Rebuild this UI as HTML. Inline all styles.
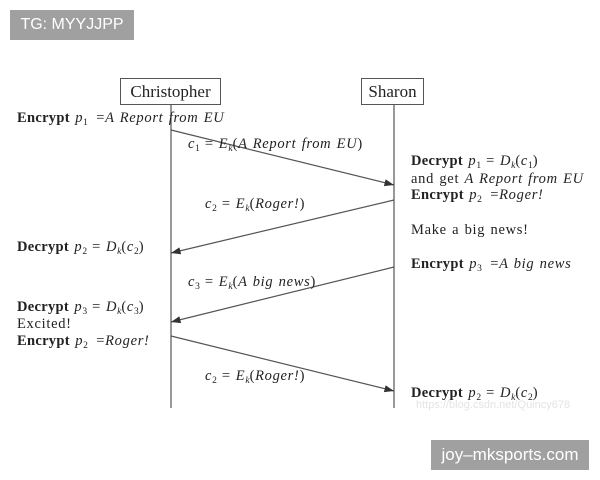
<!DOCTYPE html>
<html><head><style>
body{margin:0;background:#fff;width:600px;height:480px;overflow:hidden;position:relative;font-family:"Liberation Serif",serif;color:#222}
.t{position:absolute;font-size:14.5px;letter-spacing:0.7px;word-spacing:1px;white-space:nowrap;line-height:1}
b{font-weight:bold;letter-spacing:0.3px}
i{font-style:italic}
.e{margin:0 5px}
.f{margin:0 0 0 3px}
.box{position:absolute;border:1px solid #555;font-size:17px;text-align:center;background:#fff}
.g{position:absolute;background:#a0a0a0;color:#fff;font-family:"Liberation Sans",sans-serif;font-size:16px;display:flex;align-items:center;justify-content:center}
sub{font-size:9.5px;vertical-align:-3px;letter-spacing:0}
</style></head><body>
<div class="g" style="left:10px;top:10px;width:124px;height:30px">TG: MYYJJPP</div>
<div class="g" style="left:431px;top:440px;width:158px;height:30px;font-size:17px">joy–mksports.com</div>
<svg width="600" height="480" style="position:absolute;left:0;top:0">
<defs><marker id="a" markerWidth="8" markerHeight="6" refX="8" refY="3" orient="auto"><path d="M0,0L8,3L0,6z" fill="#333"/></marker></defs>
<g stroke="#555" stroke-width="1.2" fill="none">
<line x1="171" y1="105" x2="171" y2="408"/>
<line x1="394" y1="103" x2="394" y2="408"/>
<line x1="171" y1="130" x2="394" y2="185" marker-end="url(#a)"/>
<line x1="394" y1="200" x2="171" y2="253" marker-end="url(#a)"/>
<line x1="394" y1="267" x2="171" y2="322" marker-end="url(#a)"/>
<line x1="171" y1="336" x2="394" y2="391" marker-end="url(#a)"/>
</g></svg>
<div class="box" style="left:120px;top:78px;width:99px;height:25px;line-height:25px">Christopher</div>
<div class="box" style="left:361px;top:78px;width:61px;height:25px;line-height:25px">Sharon</div>
<div class="t" style="left:17px;top:111px"><b>Encrypt</b> <i>p</i><sub>1</sub> <span class="f">=</span><i>A Report from EU</i></div>
<div class="t" style="left:188px;top:137px"><i>c</i><sub>1</sub><span class="e">=</span><i>E<sub>k</sub></i>(<i>A Report from EU</i>)</div>
<div class="t" style="left:411px;top:154px"><b>Decrypt</b> <i>p</i><sub>1</sub><span class="e">=</span><i>D<sub>k</sub></i>(<i>c</i><sub>1</sub>)</div>
<div class="t" style="left:411px;top:172px">and get <i>A Report from EU</i></div>
<div class="t" style="left:411px;top:188px"><b>Encrypt</b> <i>p</i><sub>2</sub> <span class="f">=</span><i>Roger!</i></div>
<div class="t" style="left:411px;top:223px">Make a big news!</div>
<div class="t" style="left:411px;top:257px"><b>Encrypt</b> <i>p</i><sub>3</sub> <span class="f">=</span><i>A big news</i></div>
<div class="t" style="left:205px;top:197px"><i>c</i><sub>2</sub><span class="e">=</span><i>E<sub>k</sub></i>(<i>Roger!</i>)</div>
<div class="t" style="left:17px;top:240px"><b>Decrypt</b> <i>p</i><sub>2</sub><span class="e">=</span><i>D<sub>k</sub></i>(<i>c</i><sub>2</sub>)</div>
<div class="t" style="left:188px;top:275px"><i>c</i><sub>3</sub><span class="e">=</span><i>E<sub>k</sub></i>(<i>A big news</i>)</div>
<div class="t" style="left:17px;top:300px"><b>Decrypt</b> <i>p</i><sub>3</sub><span class="e">=</span><i>D<sub>k</sub></i>(<i>c</i><sub>3</sub>)</div>
<div class="t" style="left:17px;top:317px">Excited!</div>
<div class="t" style="left:17px;top:334px"><b>Encrypt</b> <i>p</i><sub>2</sub> <span class="f">=</span><i>Roger!</i></div>
<div class="t" style="left:205px;top:369px"><i>c</i><sub>2</sub><span class="e">=</span><i>E<sub>k</sub></i>(<i>Roger!</i>)</div>
<div class="t" style="left:411px;top:386px"><b>Decrypt</b> <i>p</i><sub>2</sub><span class="e">=</span><i>D<sub>k</sub></i>(<i>c</i><sub>2</sub>)</div>
<div class="t" style="left:416px;top:400px;font-family:'Liberation Sans',sans-serif;font-size:11px;letter-spacing:0;color:#e4e4e4">https://blog.csdn.net/Quincy678</div>
</body></html>
